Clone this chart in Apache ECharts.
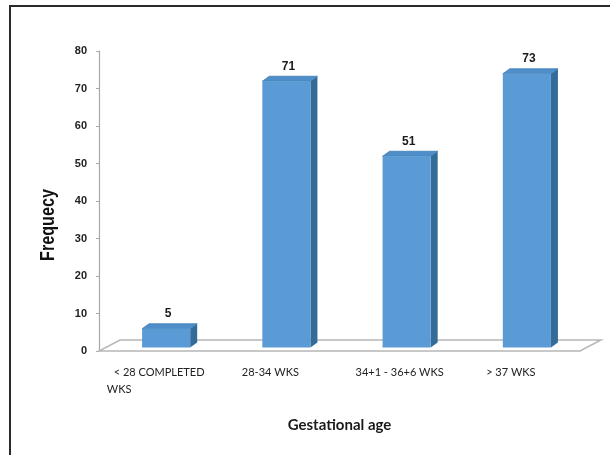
<!DOCTYPE html>
<html>
<head>
<meta charset="utf-8">
<script src="https://cdn.jsdelivr.net/npm/echarts@6/dist/echarts.min.js"></script>
<style>
  html, body { margin: 0; padding: 0; background: #fff; }
  #chart { position: absolute; left: 0; top: 0; width: 610px; height: 455px; }
  #frame { position: absolute; left: 9px; top: 5px; width: 610px; height: 460px;
           border-left: 2px solid #2a2a2a; border-top: 2px solid #2a2a2a; pointer-events: none; }
</style>
</head>
<body>
<div id="chart"></div>
<div id="frame"></div>
<script>
// Gestational age groups and how many cases fall in each
const categories = ['< 28 COMPLETED\nWKS', '28-34 WKS', '34+1 - 36+6 WKS', '> 37 WKS'];
const frequency = [5, 71, 51, 73];
const yTicks = [0, 10, 20, 30, 40, 50, 60, 70, 80];
const yTitle = 'Frequecy';
const xTitle = 'Gestational age';

const chart = echarts.init(document.getElementById('chart'));

// pseudo-3D look: bars stand a little behind the front edge of the floor
const BAR_SHIFT = [7, -3.5];   // front face offset from the axis position
const BAR_DEPTH = [7, -5];     // depth of each bar (top / side faces)
const FLOOR_DEPTH = [21, -11]; // depth of the floor plate

const FRONT = '#5b9bd5';
const TOP = '#4f8ec8';
const SIDE = '#336c99';

function renderFloor(params, api) {
  const cs = params.coordSys;
  const x0 = cs.x, x1 = cs.x + cs.width, y0 = cs.y + cs.height;
  const dx = FLOOR_DEPTH[0], dy = FLOOR_DEPTH[1];
  return {
    type: 'polygon',
    shape: { points: [[x0, y0], [x1, y0], [x1 + dx, y0 + dy], [x0 + dx, y0 + dy]] },
    style: { fill: 'none', stroke: '#b7b7b7', lineWidth: 1.5 },
    silent: true
  };
}

function renderBar(params, api) {
  const idx = api.value(0);
  const val = api.value(1);
  const top = api.coord([idx, val]);
  const base = api.coord([idx, 0]);
  const band = api.size([1, 0])[0];
  const w = band * 0.4;
  const xl = top[0] - w / 2 + BAR_SHIFT[0];
  const xr = xl + w;
  const yt = top[1] + BAR_SHIFT[1];
  const yb = base[1] + BAR_SHIFT[1];
  const dx = BAR_DEPTH[0], dy = BAR_DEPTH[1];
  return {
    type: 'group',
    children: [
      { type: 'polygon',
        shape: { points: [[xr, yt], [xr + dx, yt + dy], [xr + dx, yb + dy], [xr, yb]] },
        style: { fill: SIDE } },
      { type: 'polygon',
        shape: { points: [[xl, yt], [xl + dx, yt + dy], [xr + dx, yt + dy], [xr, yt]] },
        style: { fill: TOP, stroke: '#3f7db5', lineWidth: 0.8 } },
      { type: 'rect',
        shape: { x: xl, y: yt, width: w, height: yb - yt },
        style: { fill: FRONT } },
      { type: 'text',
        style: {
          text: String(val),
          x: (xl + xr) / 2 + 2, y: yt - 15,
          align: 'center', verticalAlign: 'middle',
          font: 'bold 12px "Liberation Sans", sans-serif',
          fill: '#1a1a1a'
        } }
    ]
  };
}

// label nudges: some category captions sit a bit left of their bar
const labelPad = { 0: 'a', 1: 'b', 2: null, 3: 'b' };

chart.setOption({
  animation: false,
  backgroundColor: '#fff',
  grid: { left: 99, right: 30, top: 51, bottom: 104 },
  graphic: [{
    type: 'text',
    x: 48, y: 225,
    rotation: Math.PI / 2,
    scaleX: 0.77,
    silent: true,
    style: {
      text: yTitle,
      align: 'center', verticalAlign: 'middle',
      font: 'bold 21px "Liberation Sans", sans-serif',
      fill: '#111'
    }
  }],
  xAxis: {
    type: 'category',
    data: categories,
    name: xTitle,
    nameLocation: 'middle',
    nameGap: 67,
    nameTextStyle: { fontFamily: 'Lato', fontWeight: 'bold', fontSize: 15, color: '#1a1a1a' },
    axisLine: { show: false },
    axisTick: { show: false },
    axisLabel: {
      interval: 0,
      margin: 13,
      fontFamily: 'Lato',
      fontSize: 11,
      color: '#222',
      lineHeight: 17,
      formatter: function (v, i) {
        const parts = v.split('\n');
        if (parts.length > 1) return parts[0] + '\n{a|' + parts[1] + '}';
        return labelPad[i] ? '{' + labelPad[i] + '|' + v + '}' : v;
      },
      rich: {
        a: { fontFamily: 'Lato', fontSize: 11, color: '#222', padding: [0, 80, 0, 0] },
        b: { fontFamily: 'Lato', fontSize: 11, color: '#222', padding: [0, 18, 0, 0] }
      }
    }
  },
  yAxis: {
    type: 'value',
    min: yTicks[0],
    max: yTicks[yTicks.length - 1],
    interval: 10,
    axisLine: { show: true, lineStyle: { color: '#a9a9a9', width: 1.2 } },
    axisTick: { show: true, length: 3, lineStyle: { color: '#a9a9a9' } },
    splitLine: { show: false },
    axisLabel: {
      margin: 12,
      fontFamily: '"Liberation Sans", sans-serif',
      fontWeight: 'bold',
      fontSize: 11,
      color: '#222'
    }
  },
  series: [
    { type: 'custom', renderItem: renderFloor, data: [[0, 0]], silent: true, z: 1 },
    {
      type: 'custom',
      renderItem: renderBar,
      data: frequency.map(function (v, i) { return [i, v]; }),
      encode: { x: 0, y: 1 },
      z: 2
    }
  ]
});
</script>
</body>
</html>
